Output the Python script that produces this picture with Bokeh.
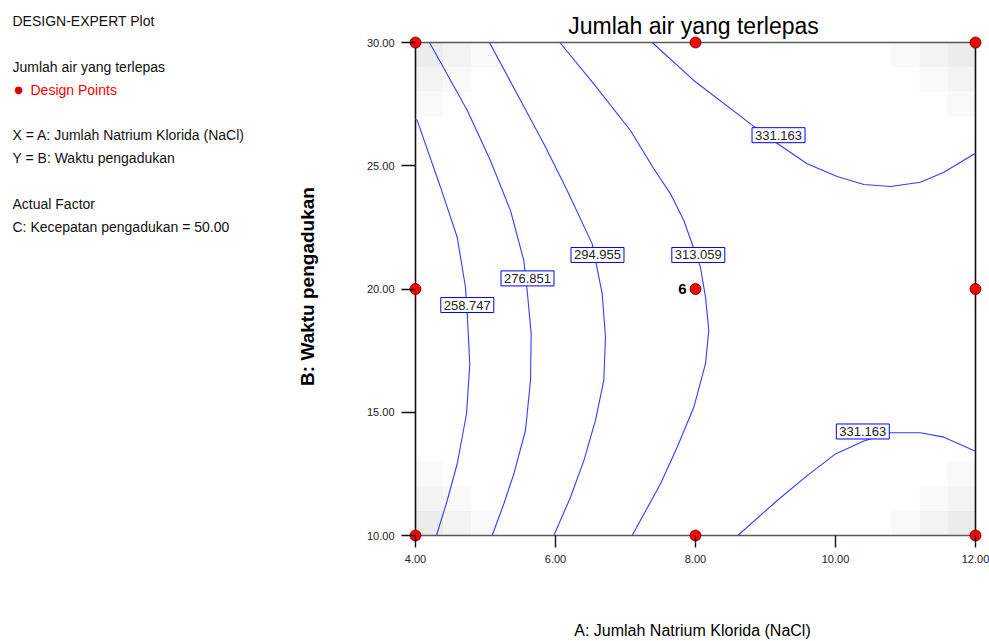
from bokeh.plotting import figure
from bokeh.models import (Label, Range1d, FixedTicker, PrintfTickFormatter)
from bokeh.embed import file_html
from bokeh.resources import INLINE
import math

# ---------------- data ----------------
x_ticks = [4, 6, 8, 10, 12]
y_ticks = [10, 15, 20, 25, 30]

design_x = [4, 4, 4, 8, 8, 8, 12, 12, 12]
design_y = [10, 20, 30, 10, 20, 30, 10, 20, 30]
center_reps = "6"

levels = ["258.747", "276.851", "294.955", "313.059", "331.163", "331.163"]

c1_x = [4.00, 4.024, 4.357, 4.596, 4.714, 4.739, 4.776, 4.729, 4.596, 4.453, 4.30]
c1_y = [26.90, 26.84, 24.13, 22.10, 20.07, 18.99, 16.97, 14.94, 12.91, 11.42, 10.0]

c2_x = [4.20, 4.74, 5.07, 5.357, 5.547, 5.595, 5.653, 5.643, 5.571, 5.405, 5.262, 5.095]
c2_y = [30.0, 27.24, 25.21, 23.18, 21.16, 19.94, 18.18, 16.29, 14.26, 12.50, 11.29, 10.0]

c3_x = [5.057, 5.45, 5.833, 6.167, 6.524, 6.667, 6.714, 6.69, 6.571, 6.405, 6.214, 5.976]
c3_y = [30.0, 27.92, 25.89, 24.0, 21.83, 19.81, 18.05, 16.29, 14.67, 13.04, 11.55, 10.0]

c4_x = [6.062, 6.547, 7.071, 7.40, 7.643, 7.833, 8.071, 8.143, 8.19, 8.143, 7.976, 7.738, 7.50, 7.095]
c4_y = [30.0, 28.32, 26.43, 24.90, 23.86, 22.78, 20.88, 19.67, 18.32, 16.97, 15.20, 13.58, 12.10, 10.0]

c5_x = [7.381, 7.976, 8.786, 9.19, 9.595, 10.024, 10.405, 10.786, 11.214, 11.548, 12.0]
c5_y = [30.0, 28.46, 26.70, 25.86, 25.08, 24.56, 24.24, 24.16, 24.33, 24.74, 25.51]

c6_x = [8.605, 9.167, 9.595, 10.0, 10.405, 10.786, 11.214, 11.548, 12.0]
c6_y = [10.0, 11.42, 12.43, 13.31, 13.83, 14.17, 14.17, 13.99, 13.42]

label_x = [4.74, 5.60, 6.60, 8.04, 9.186, 10.39]
label_y = [19.35, 20.43, 21.38, 21.38, 26.24, 14.22]

# standard-error shading cells at the corners (x0, y0 of 0.4 x 1.0 cells, grey level)
shade_x0 = [4.0, 4.4, 4.8, 4.0, 4.0, 4.4,
            11.6, 11.2, 10.8, 11.6, 11.6, 11.2,
            4.0, 4.4, 4.8, 4.0, 4.0, 4.4,
            11.6, 11.2, 10.8, 11.6, 11.6, 11.2]
shade_y0 = [29, 29, 29, 28, 27, 28,
            29, 29, 29, 28, 27, 28,
            10, 10, 10, 11, 12, 11,
            10, 10, 10, 11, 12, 11]
shade_c = ["#ececec", "#f3f3f3", "#f9f9f9", "#f3f3f3", "#f9f9f9", "#f9f9f9",
           "#ececec", "#f3f3f3", "#f9f9f9", "#f3f3f3", "#f9f9f9", "#f9f9f9",
           "#ececec", "#f3f3f3", "#f9f9f9", "#f3f3f3", "#f9f9f9", "#f9f9f9",
           "#ececec", "#f3f3f3", "#f9f9f9", "#f3f3f3", "#f9f9f9", "#f9f9f9"]

info_lines = ["DESIGN-EXPERT Plot", "Jumlah air yang terlepas", "Design Points",
              "X = A: Jumlah Natrium Klorida (NaCl)", "Y = B: Waktu pengadukan",
              "Actual Factor", "C: Kecepatan pengadukan = 50.00"]
title_text = "Jumlah air yang terlepas"
x_title = "A: Jumlah Natrium Klorida (NaCl)"
y_title = "B: Waktu pengadukan"

# ---------------- figure ----------------
W, H = 989, 641
# frame covers the whole canvas; axes are placed at fixed data locations
X0, X1 = 4 - 415 / 70.0, 12 + 14 / 70.0
Y0, Y1 = 10 - 106 / 24.65, 30 + 42 / 24.65

p = figure(width=W, height=H, output_backend="svg", toolbar_location=None,
           x_range=Range1d(X0, X1), y_range=Range1d(Y0, Y1),
           min_border_left=0, min_border_right=0, min_border_top=0, min_border_bottom=0)
p.outline_line_color = None
p.grid.visible = False
p.background_fill_color = "white"
p.border_fill_color = "white"


def dx(px):
    return X0 + px / W * (X1 - X0)


def dy(py):
    return Y1 - py / H * (Y1 - Y0)


FONT = "Liberation Sans"

# shading
p.quad(left=shade_x0, right=[v + 0.4 for v in shade_x0], bottom=shade_y0,
       top=[v + 1 for v in shade_y0], fill_color=shade_c, line_color=None, level="underlay")

# frame box edges (from the tick extremes)
xa, xb, ya, yb = x_ticks[0], x_ticks[-1], y_ticks[0], y_ticks[-1]
p.segment(x0=[xa, xb], y0=[ya, ya], x1=[xa, xb], y1=[yb, yb], line_color="#111111",
          line_width=1.6, level="underlay")
p.segment(x0=[xa, xa], y0=[ya, yb], x1=[xb, xb], y1=[ya, yb], line_color="#5a5a5a",
          line_width=1.6, level="underlay")

# contours
for cx, cy in [(c1_x, c1_y), (c2_x, c2_y), (c3_x, c3_y), (c4_x, c4_y), (c5_x, c5_y), (c6_x, c6_y)]:
    p.line(cx, cy, line_color="#3a3aff", line_width=1.1)

# design points
p.scatter(design_x, design_y, size=11, fill_color="#ff0000", line_color="#5a0000", line_width=0.8)

# contour labels
for t, lx, ly in zip(levels, label_x, label_y):
    p.add_layout(Label(x=lx, y=ly, text=t, text_align="center", text_baseline="middle",
                       text_font=FONT, text_font_size="13px", text_color="#222222",
                       background_fill_color="white", border_line_color="#0000ff",
                       border_line_width=1, padding=3))

# replicate count
p.add_layout(Label(x=design_x[4], y=design_y[4], x_offset=-13, text=center_reps,
                   text_align="center", text_baseline="middle", text_font=FONT,
                   text_font_size="15px", text_font_style="bold", text_color="black"))

# axes
for ax in p.xaxis:
    ax.ticker = FixedTicker(ticks=x_ticks)
    ax.formatter = PrintfTickFormatter(format="%.2f")
    ax.fixed_location = ya
    ax.bounds = (xa, xb)
    ax.axis_line_color = None
    ax.major_tick_in = 0
    ax.major_tick_out = 12
    ax.major_tick_line_color = "#111111"
    ax.major_tick_line_width = 1.4
    ax.minor_tick_line_color = None
    ax.major_label_text_font = FONT
    ax.major_label_text_font_size = "11px"
    ax.major_label_text_color = "#222222"
    ax.major_label_standoff = 7
for ax in p.yaxis:
    ax.ticker = FixedTicker(ticks=y_ticks)
    ax.formatter = PrintfTickFormatter(format="%.2f")
    ax.fixed_location = xa
    ax.bounds = (ya, yb)
    ax.axis_line_color = None
    ax.major_tick_in = 0
    ax.major_tick_out = 14
    ax.major_tick_line_color = "#111111"
    ax.major_tick_line_width = 1.4
    ax.minor_tick_line_color = None
    ax.major_label_text_font = FONT
    ax.major_label_text_font_size = "11px"
    ax.major_label_text_color = "#222222"
    ax.major_label_standoff = 7

# titles
p.add_layout(Label(x=dx(693), y=dy(25), text=title_text, text_align="center",
                   text_baseline="middle", text_font=FONT, text_font_size="23px",
                   text_color="black"))
p.add_layout(Label(x=dx(692), y=dy(630), text=x_title, text_align="center",
                   text_baseline="middle", text_font=FONT, text_font_size="16px",
                   text_color="black"))
p.add_layout(Label(x=dx(307), y=dy(286), text=y_title, text_align="center",
                   text_baseline="middle", text_font=FONT, text_font_size="19px",
                   text_font_style="bold", text_color="black", angle=math.pi / 2))

# info block
info_y = [20, 66, 89, 134, 157, 203, 226]
for i, (t, yy) in enumerate(zip(info_lines, info_y)):
    xx = 30 if i == 2 else 12
    p.add_layout(Label(x=dx(xx), y=dy(yy), text=t, text_align="left", text_baseline="middle",
                       text_font=FONT, text_font_size="14px",
                       text_color="#ff0000" if i == 2 else "#111111"))
p.add_layout(Label(x=dx(18), y=dy(89), text="\u25CF", text_align="center", text_baseline="middle",
                   text_font="DejaVu Sans", text_font_size="10px", text_color="#dd0000"))

open("out.html", "w").write(file_html(p, INLINE))
